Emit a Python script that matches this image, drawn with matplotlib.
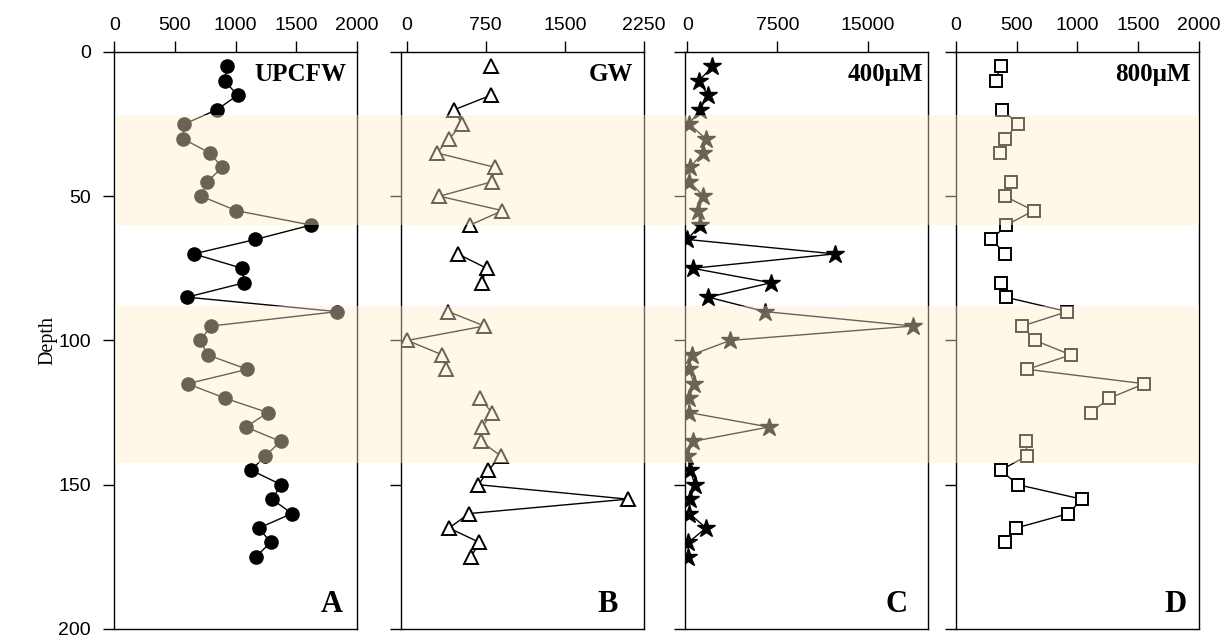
import numpy as np
import matplotlib
matplotlib.use("Agg")
import matplotlib.pyplot as plt
from matplotlib.patches import Rectangle
from matplotlib.transforms import blended_transform_factory

# Глубины отбора проб
depth = [5, 10, 15, 20, 25, 30, 35, 40, 45, 50, 55, 60, 65, 70, 75, 80, 85, 90,
         95, 100, 105, 110, 115, 120, 125, 130, 135, 140, 145, 150, 155, 160,
         165, 170, 175]

nan = np.nan
upcfw = [928, 909, 1016, 846, 577, 563, 786, 890, 766, 717, 1005, 1621, 1162,
         654, 1055, 1071, 599, 1838, 797, 709, 769, 1096, 604, 912, 1266, 1085,
         1371, 1244, 1129, 1376, 1299, 1464, 1192, 1288, 1167]
gw = [800, nan, 800, 452, 522, 405, 285, 838, 807, 310, 908, 601, nan, 484,
      759, 712, nan, 395, 737, 5, 338, 373, nan, 696, 807, 718, 705, 892, 775,
      680, 2098, 591, 401, 689, 610]
um400 = [2080, 973, 1694, 1056, 141, 1527, 1278, 225, 167, 1333, 917, 1056, 0,
         12280, 445, 6960, 1750, 6460, 18790, 3550, 363, 141, 557, 141, 141,
         6793, 445, 0, 225, 640, 225, 167, 1555, 83, 83]
um800 = [368, 327, nan, 381, 510, 406, 360, nan, 450, 401, 640, 414, 292, 406,
         nan, 373, 409, 918, 545, 651, 946, 586, 1551, 1264, 1109, nan, 578,
         583, 368, 510, 1036, 926, 496, 401, nan]

# Выделенные интервалы глубин
bands = [(22, 60), (88, 142.5)]

titles = ["UPCFW", "GW", "400\u03bcM", "800\u03bcM"]
letters = ["A", "B", "C", "D"]
xlims = [(0, 2000), (-55, 2250), (-200, 20000), (0, 2000)]
xticks = [[0, 500, 1000, 1500, 2000], [0, 750, 1500, 2250],
          [0, 7500, 15000], [0, 500, 1000, 1500, 2000]]
series = [upcfw, gw, um400, um800]

styles = [
    dict(marker="o", ms=9.5, mfc="black", mec="black"),
    dict(marker="^", ms=10.5, mfc="white", mec="black", mew=1.4),
    dict(marker="*", ms=13.5, mfc="black", mec="black"),
    dict(marker="s", ms=8.5, mfc="white", mec="black", mew=1.4),
]

lefts = [0.0932, 0.3271, 0.5587, 0.7798]
title_x = [0.956, 0.958, 0.982, 0.967]
letter_x = [0.942, 0.893, 0.916, 0.950]

sans = "Liberation Sans"
serif = "Liberation Serif"

fig = plt.figure(figsize=(12.26, 6.39), dpi=100)
axes = []
for i in range(4):
    ax = fig.add_axes([lefts[i], 0.0157, 0.198, 0.903])
    ax.set_facecolor("none")
    ax.plot(series[i], depth, color="black", lw=1, **styles[i])
    ax.set_xlim(*xlims[i])
    ax.set_ylim(200, 0)
    ax.set_xticks(xticks[i])
    ax.set_yticks([0, 50, 100, 150, 200])
    ax.xaxis.tick_top()
    ax.tick_params(axis="both", direction="out", length=8, width=1,
                   labelsize=14)
    ax.tick_params(axis="x", pad=5)
    ax.tick_params(axis="y", pad=9, labelleft=(i == 0))
    for lab in ax.get_xticklabels() + ax.get_yticklabels():
        lab.set_fontfamily(sans)
    for sp in ax.spines.values():
        sp.set_linewidth(1)
    ax.text(title_x[i], 0.95, titles[i], transform=ax.transAxes, ha="right",
            va="baseline", fontsize=18, fontweight="bold", family=serif)
    ax.text(letter_x[i], 0.03, letters[i], transform=ax.transAxes, ha="right",
            va="baseline", fontsize=22, fontweight="bold", family=serif)
    axes.append(ax)

fig.text(48 / 1226, 0.467, "Depth", rotation=90, ha="center", va="center",
         fontsize=14.5, family=serif)

# Полупрозрачные полосы поверх всех панелей
x0 = axes[0].get_position().x0 + 1 / 1226
x1 = axes[-1].get_position().x1
trans = blended_transform_factory(fig.transFigure, axes[0].transData)
for lo, hi in bands:
    fig.add_artist(Rectangle((x0, lo), x1 - x0, hi - lo, transform=trans,
                             facecolor="#FFECCA", edgecolor="none",
                             alpha=0.42, zorder=5))

fig.savefig("out.png", dpi=100)
